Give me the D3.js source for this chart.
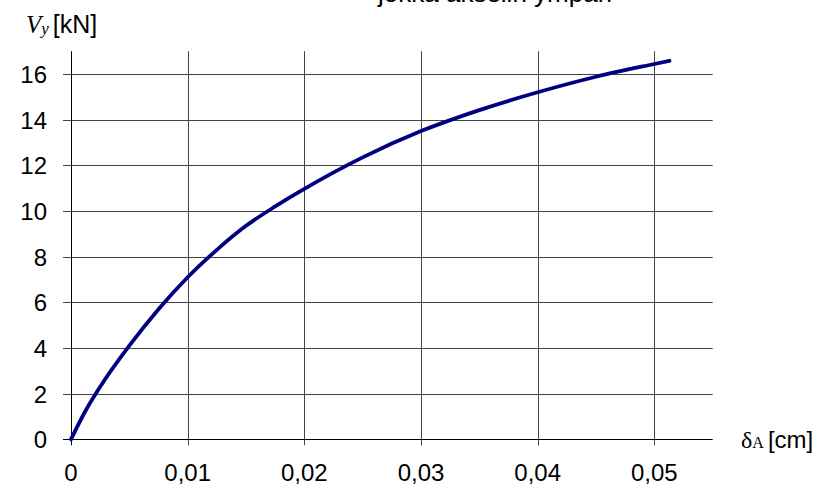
<!DOCTYPE html>
<html>
<head>
<meta charset="utf-8">
<script src="https://cdn.jsdelivr.net/npm/d3@7"></script>
<style>
  body { margin: 0; background: #fff; }
  svg { display: block; }
  text { font-family: "Liberation Sans", Arial, sans-serif; fill: #000; }
</style>
</head>
<body>
<div id="chart"></div>
<script>
// data (deflection in cm, shear in kN)
const deltaA = [0, 0.00125, 0.0025, 0.005, 0.0075, 0.01, 0.0125, 0.015, 0.0175, 0.02, 0.025, 0.03, 0.035, 0.04, 0.045, 0.05, 0.0513];
const Vy = [0, 1.25, 2.3, 4.1, 5.7, 7.1, 8.3, 9.35, 10.2, 10.97, 12.35, 13.5, 14.42, 15.2, 15.88, 16.44, 16.58];
const xTicks = [0, 0.01, 0.02, 0.03, 0.04, 0.05];
const yTicks = [0, 2, 4, 6, 8, 10, 12, 14, 16];
const titleText = "jokka akselin ympäri";

const W = 824, H = 484;
const svg = d3.select("#chart").append("svg")
	.attr("width", W)
	.attr("height", H);

const x = d3.scaleLinear().domain([0, 0.055]).range([71, 712.7]);
const y = d3.scaleLinear().domain([0, 17]).range([439.3, 51.2]);

const fmt = function (d) { return d === 0 ? "0" : d3.format(".2f")(d).replace(".", ","); };
const px = function (v) { return Math.round(v) + 0.5; };

// title, cut off by the top edge
svg.append("text")
	.attr("x", 378)
	.attr("y", 2)
	.style("font-size", "26px")
	.text(titleText);

// horizontal gridlines
svg.selectAll(".hgrid")
	.data(yTicks.filter(function (d) { return d > 0; }))
	.enter()
	.append("line")
	.attr("x1", x(0) - 8)
	.attr("x2", x(0.055))
	.attr("y1", function (d) { return px(y(d)); })
	.attr("y2", function (d) { return px(y(d)); })
	.style("stroke", "#444")
	.style("stroke-width", "1px");

// vertical gridlines
svg.selectAll(".vgrid")
	.data(xTicks.filter(function (d) { return d > 0; }))
	.enter()
	.append("line")
	.attr("x1", function (d) { return px(x(d)); })
	.attr("x2", function (d) { return px(x(d)); })
	.attr("y1", y(17))
	.attr("y2", y(0) + 6)
	.style("stroke", "#444")
	.style("stroke-width", "1px");

// axes
svg.append("line")
	.attr("x1", px(x(0))).attr("x2", px(x(0)))
	.attr("y1", y(17)).attr("y2", y(0) + 6)
	.style("stroke", "#000");
svg.append("line")
	.attr("x1", x(0) - 8).attr("x2", x(0.055))
	.attr("y1", px(y(0))).attr("y2", px(y(0)))
	.style("stroke", "#000");

// tick labels
svg.selectAll(".ylab")
	.data(yTicks)
	.enter()
	.append("text")
	.attr("x", 47)
	.attr("y", function (d) { return y(d) + 9; })
	.attr("text-anchor", "end")
	.style("font-size", "24px")
	.text(function (d) { return d; });

svg.selectAll(".xlab")
	.data(xTicks)
	.enter()
	.append("text")
	.attr("x", function (d) { return x(d); })
	.attr("y", 481)
	.attr("text-anchor", "middle")
	.style("font-size", "24px")
	.text(fmt);

// axis titles
const yt = svg.append("text").attr("x", 26).attr("y", 33);
yt.append("tspan")
	.style("font-family", "'Liberation Serif', 'Times New Roman', serif")
	.style("font-style", "italic")
	.style("font-size", "25px")
	.text("V");
yt.append("tspan")
	.attr("dy", 1)
	.style("font-family", "'Liberation Serif', 'Times New Roman', serif")
	.style("font-style", "italic")
	.style("font-size", "17px")
	.text("y");
yt.append("tspan")
	.attr("dy", -1)
	.attr("dx", 4)
	.style("font-size", "25px")
	.text("[kN]");

const xt = svg.append("text").attr("x", 741).attr("y", 448);
xt.append("tspan")
	.style("font-family", "'Liberation Serif', 'Times New Roman', serif")
	.style("font-size", "24px")
	.text("δ");
xt.append("tspan")
	.style("font-family", "'Liberation Serif', 'Times New Roman', serif")
	.style("font-size", "16px")
	.text("A");
xt.append("tspan")
	.attr("dx", 4)
	.style("font-size", "24px")
	.text("[cm]");

// curve
const pts = deltaA.map(function (d, i) { return [d, Vy[i]]; });
const line = d3.line()
	.x(function (d) { return x(d[0]); })
	.y(function (d) { return y(d[1]); })
	.curve(d3.curveMonotoneX);

svg.append("path")
	.datum(pts)
	.attr("d", line)
	.style("fill", "none")
	.style("stroke", "#000080")
	.style("stroke-width", "3.8px")
	.style("stroke-linecap", "round");
</script>
</body>
</html>
